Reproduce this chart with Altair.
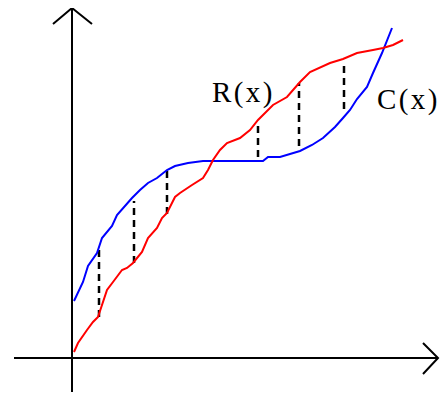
import altair as alt
import pandas as pd

# Coordinates: origin at the axes crossing, x to the right, y upward
c_x = [2, 11, 16, 25, 30, 40, 45, 60, 68, 76, 85, 95, 103, 116, 131, 148, 191, 196, 208, 228, 240, 251, 263, 271, 278, 285, 295, 301, 310, 320]
c_y = [57, 76, 92, 105, 120, 132, 143, 160, 168, 175, 180, 188, 192, 195, 197, 197, 197, 201, 201, 207, 213, 220, 231, 240, 248, 259, 271, 285, 305, 330]

r_x = [2, 6, 15, 21, 26, 35, 41, 50, 55, 61, 70, 76, 85, 90, 95, 103, 108, 120, 131, 136, 141, 148, 155, 168, 178, 186, 201, 215, 228, 238, 258, 271, 285, 301, 311, 321, 331]
r_y = [6, 15, 28, 36, 41, 68, 76, 88, 90, 95, 106, 120, 130, 140, 145, 161, 165, 173, 180, 188, 198, 208, 215, 220, 228, 238, 253, 261, 276, 286, 295, 299, 305, 308, 310, 313, 318]

gap_x = [27, 62, 95, 186, 227, 272]
gap_lo = [41, 95, 144, 201, 212, 249]
gap_hi = [111, 157, 188, 236, 275, 297]

labels = ["R\u200a(\u200ax\u200a)", "C\u200a(\u200ax\u200a)"]
label_x = [140, 305]
label_y = [256, 249]

# axes with arrowheads: (group, order, x, y)
axis_pts = [
    ("v", 0, 0, 350), ("v", 1, 0, -47),
    ("h", 0, -58, 0), ("h", 1, 366, 0),
    ("va", 0, -19, 334), ("va", 1, 0, 350), ("va", 2, 20, 334),
    ("ha", 0, 351, 15), ("ha", 1, 366, 0), ("ha", 2, 351, -16),
]

xs = alt.Scale(domain=[-64, 368], nice=False, zero=False)
ys = alt.Scale(domain=[-34, 350], nice=False, zero=False)

c_df = pd.DataFrame({"x": c_x, "y": c_y, "o": range(len(c_x))})
r_df = pd.DataFrame({"x": r_x, "y": r_y, "o": range(len(r_x))})
g_df = pd.DataFrame({"x": gap_x, "lo": gap_lo, "hi": gap_hi})
t_df = pd.DataFrame({"label": labels, "x": label_x, "y": label_y})
a_df = pd.DataFrame(axis_pts, columns=["g", "o", "x", "y"])

axes = alt.Chart(a_df).mark_line(color="black", strokeWidth=2).encode(
    x=alt.X("x:Q", scale=xs, axis=None),
    y=alt.Y("y:Q", scale=ys, axis=None),
    detail="g:N",
    order="o:Q",
)

gaps = alt.Chart(g_df).mark_rule(color="black", strokeWidth=2.5, strokeDash=[7, 5]).encode(
    x=alt.X("x:Q", scale=xs, axis=None),
    y=alt.Y("lo:Q", scale=ys, axis=None),
    y2="hi:Q",
)

c_line = alt.Chart(c_df).mark_line(color="#0000ff", strokeWidth=2).encode(
    x=alt.X("x:Q", scale=xs, axis=None),
    y=alt.Y("y:Q", scale=ys, axis=None),
    order="o:Q",
)

r_line = alt.Chart(r_df).mark_line(color="#ff0000", strokeWidth=2).encode(
    x=alt.X("x:Q", scale=xs, axis=None),
    y=alt.Y("y:Q", scale=ys, axis=None),
    order="o:Q",
)

text = alt.Chart(t_df).mark_text(
    font="Liberation Serif", fontSize=29, align="left", baseline="alphabetic", color="black"
).encode(
    x=alt.X("x:Q", scale=xs, axis=None),
    y=alt.Y("y:Q", scale=ys, axis=None),
    text="label:N",
)

chart = alt.layer(axes, gaps, c_line, r_line, text).properties(
    width=432, height=384,
    autosize=alt.AutoSizeParams(type="none"),
    padding=0,
    background="white",
).configure_view(stroke=None)

chart.save("out.html", embed_options={"renderer": "svg", "actions": False})
